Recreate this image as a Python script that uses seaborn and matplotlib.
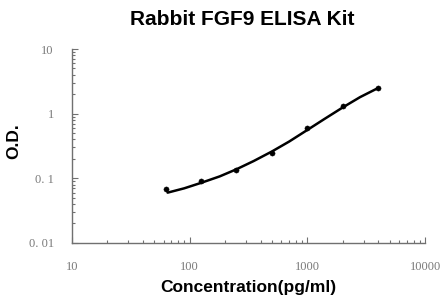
import numpy as np
import pandas as pd
import matplotlib
matplotlib.use("Agg")
import matplotlib.pyplot as plt
import seaborn as sns
from matplotlib.ticker import LogLocator, FixedLocator, FixedFormatter, NullFormatter

# standard points
concentration = [62.5, 125, 250, 500, 1000, 2000, 4000]
od = [0.068, 0.092, 0.135, 0.245, 0.61, 1.32, 2.5]

# fitted curve as drawn in the chart
curve_conc = [65, 90, 125, 180, 250, 350, 500, 700, 1000, 1400, 2000, 2800, 4000]
curve_od = [0.06, 0.07, 0.085, 0.107, 0.138, 0.185, 0.26, 0.37, 0.56, 0.83, 1.25, 1.8, 2.5]

x_ticks = [10, 100, 1000, 10000]
x_labels = ["10", "100", "1000", "10000"]
y_ticks = [0.01, 0.1, 1, 10]
y_labels = ["0. 01", "0. 1", "1", "10"]

sns.set_style("white")
plt.rcParams['font.family'] = ['Liberation Sans', 'DejaVu Sans']

fig = plt.figure(figsize=(4.41, 2.97), dpi=100)
ax = fig.add_axes([0.163, 0.182, 0.801, 0.653])

pts = pd.DataFrame({"conc": concentration, "od": od})
fit = pd.DataFrame({"conc": curve_conc, "od": curve_od})

sns.lineplot(data=fit, x="conc", y="od", color="black", linewidth=1.8, ax=ax)
sns.scatterplot(data=pts, x="conc", y="od", color="black", s=14, edgecolor="black", ax=ax, zorder=3)

ax.set_xscale("log")
ax.set_yscale("log")
ax.set_xlim(10, 10000)
ax.set_ylim(0.01, 10)

ax.xaxis.set_major_locator(FixedLocator(x_ticks))
ax.xaxis.set_major_formatter(FixedFormatter(x_labels))
ax.yaxis.set_major_locator(FixedLocator(y_ticks))
ax.yaxis.set_major_formatter(FixedFormatter(y_labels))
ax.xaxis.set_minor_locator(LogLocator(base=10, subs=np.arange(2, 10)))
ax.yaxis.set_minor_locator(LogLocator(base=10, subs=np.arange(2, 10)))
ax.xaxis.set_minor_formatter(NullFormatter())
ax.yaxis.set_minor_formatter(NullFormatter())

for side in ["top", "right"]:
    ax.spines[side].set_visible(False)
for side in ["left", "bottom"]:
    ax.spines[side].set_color("#707070")
    ax.spines[side].set_linewidth(1.0)

ax.tick_params(which="both", direction="in", colors="#707070", width=0.8,
               bottom=True, left=True, top=False, right=False)
ax.tick_params(which="major", length=4)
ax.tick_params(which="minor", length=2.5)
ax.tick_params(axis="x", which="major", pad=13)
ax.tick_params(axis="y", which="major", pad=13)
for lab in ax.get_xticklabels() + ax.get_yticklabels():
    lab.set_family(["Liberation Serif", "DejaVu Serif"])
    lab.set_fontsize(9)
    lab.set_color("#7a7a7a")

ax.set_xlabel("Concentration(pg/ml)", fontsize=12.5, fontweight="bold", color="black", labelpad=5)
ax.set_ylabel("O.D.", fontsize=12.5, fontweight="bold", color="black")
ax.yaxis.set_label_coords(-0.144, 0.526)
fig.text(0.549, 0.933, "Rabbit FGF9 ELISA Kit", ha="center", va="center",
         fontsize=15, fontweight="bold", color="black")

fig.savefig("out.png", dpi=100)
